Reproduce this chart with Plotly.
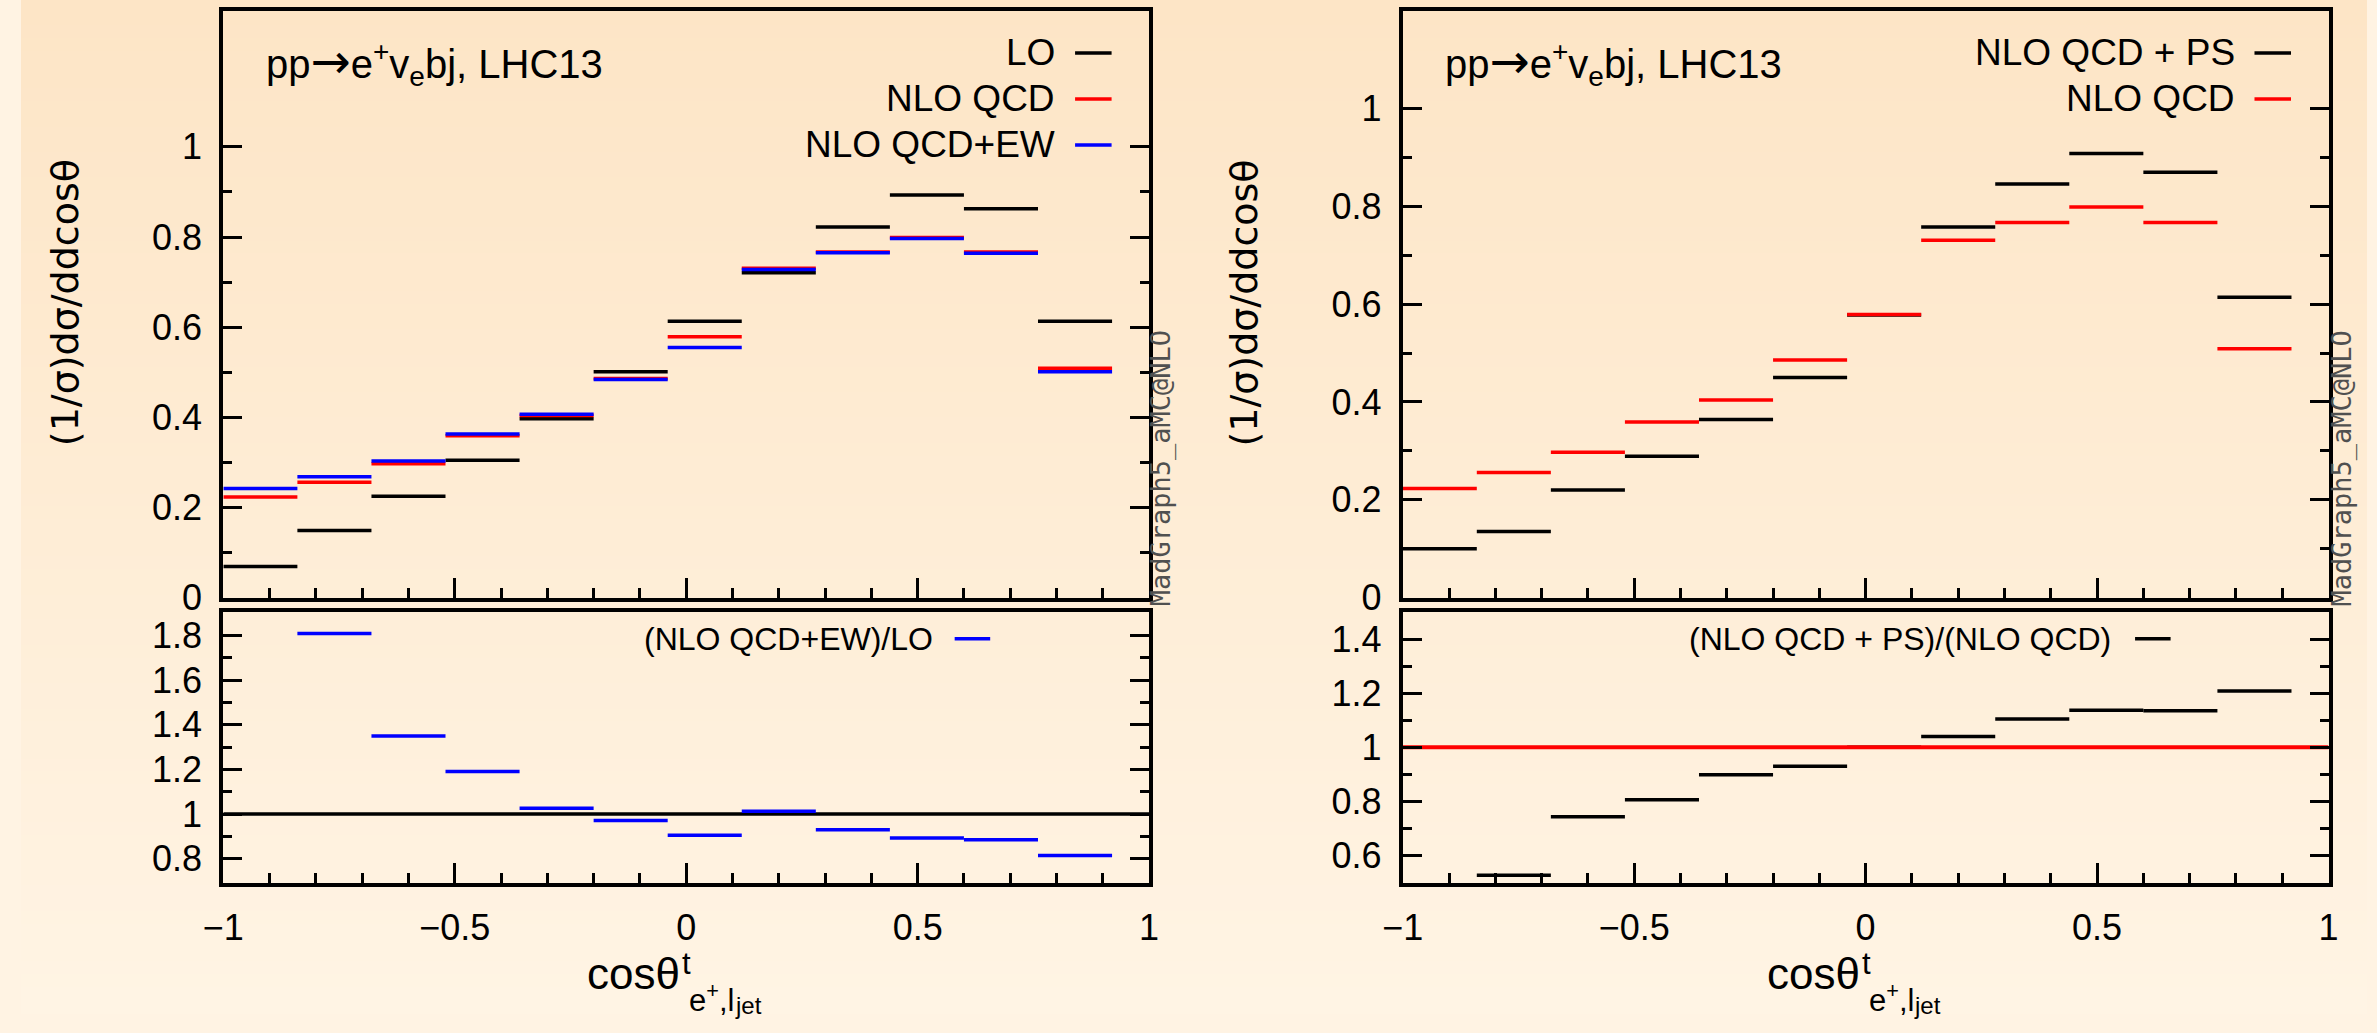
import plotly.graph_objects as go

W, H = 2377, 1033

# cos(theta) bin edges (12 bins of width 0.16)
bin_edges = [-1.0, -0.84, -0.68, -0.52, -0.36, -0.20, -0.04, 0.12, 0.28, 0.44, 0.60, 0.76, 0.92]

# normalised distributions (1/sigma) dsigma/dcos(theta)
lo = [0.069, 0.149, 0.225, 0.305, 0.397, 0.501, 0.613, 0.721, 0.822, 0.893, 0.863, 0.613]
nlo_qcd = [0.223, 0.256, 0.297, 0.359, 0.404, 0.486, 0.579, 0.731, 0.767, 0.799, 0.767, 0.509]
nlo_qcd_ew = [0.242, 0.268, 0.303, 0.363, 0.407, 0.484, 0.555, 0.728, 0.765, 0.797, 0.764, 0.501]
nlo_qcd_ps = [0.100, 0.135, 0.220, 0.289, 0.364, 0.450, 0.578, 0.758, 0.846, 0.908, 0.870, 0.614]

# ratios
ratio_ew_over_lo = [3.51, 1.809, 1.350, 1.191, 1.026, 0.971, 0.905, 1.013, 0.930, 0.893, 0.885, 0.815]
ratio_ps_over_qcd = [0.445, 0.526, 0.743, 0.806, 0.898, 0.930, 1.000, 1.040, 1.105, 1.138, 1.136, 1.209]

x_ticks = [-1, -0.5, 0, 0.5, 1]

FONT = "Liberation Sans, Arial, Helvetica, sans-serif"
BLACK, RED, BLUE = "#000000", "#ff0000", "#0000ff"
LW = 3.5


def px(x):
    return x / W


def py(y):
    return 1 - y / H


def steps(values):
    xs, ys = [], []
    for i, v in enumerate(values):
        xs += [bin_edges[i], bin_edges[i + 1], None]
        ys += [v, v, None]
    return xs, ys


fig = go.Figure()


def add_hist(values, color, xa, ya, width=LW):
    xs, ys = steps(values)
    fig.add_trace(go.Scatter(x=xs, y=ys, mode="lines", xaxis=xa, yaxis=ya,
                             line=dict(color=color, width=width), showlegend=False,
                             hoverinfo="skip"))


def add_unity(color, xa, ya, width):
    fig.add_trace(go.Scatter(x=[-1, 1], y=[1, 1], mode="lines", xaxis=xa, yaxis=ya,
                             line=dict(color=color, width=width), showlegend=False,
                             hoverinfo="skip"))


# left: LO vs NLO QCD vs NLO QCD+EW
add_hist(lo, BLACK, "x", "y")
add_hist(nlo_qcd, RED, "x", "y")
add_hist(nlo_qcd_ew, BLUE, "x", "y")
add_unity(BLACK, "x2", "y2", 3.5)
add_hist(ratio_ew_over_lo, BLUE, "x2", "y2")

# right: NLO QCD + PS vs NLO QCD
add_hist(nlo_qcd_ps, BLACK, "x3", "y3")
add_hist(nlo_qcd, RED, "x3", "y3")
add_hist(ratio_ps_over_qcd, BLACK, "x4", "y4")
add_unity(RED, "x4", "y4", 4)

# panel geometry
left_dom = [px(205), px(1143)]
right_dom = [px(1400), px(2338)]
top_dom = [py(610), py(11)]
bot_dom = [py(901), py(624.7)]

tickfont = dict(family=FONT, size=36, color="black")


def xaxis(domain, anchor, labels):
    return dict(domain=domain, anchor=anchor, range=[-1, 1], showgrid=False, zeroline=False,
                showline=True, linecolor="black", linewidth=4, mirror=True,
                ticks="inside", ticklen=20, tickwidth=2.5, tickcolor="black",
                tickmode="array", tickvals=x_ticks, showticklabels=labels,
                ticklabelstandoff=10, tickfont=tickfont,
                minor=dict(ticks="inside", ticklen=10, tickwidth=2.5, tickcolor="black",
                           dtick=0.1, tick0=0))


def yaxis(domain, anchor, rng, major, minor):
    return dict(domain=domain, anchor=anchor, range=rng, showgrid=False, zeroline=False,
                showline=True, linecolor="black", linewidth=4, mirror="allticks",
                ticks="inside", ticklen=19, tickwidth=2.5, tickcolor="black",
                tickmode="array", tickvals=major, tickfont=tickfont,
                ticklabelstandoff=10,
                minor=dict(ticks="inside", ticklen=9, tickwidth=2.5, tickcolor="black",
                           tickvals=minor))


top_major = [0, 0.2, 0.4, 0.6, 0.8, 1.0]
top_minor = [0.1, 0.3, 0.5, 0.7, 0.9]

layout = dict(
    width=W, height=H, margin=dict(l=0, r=0, t=0, b=0),
    paper_bgcolor="#fff3e3", plot_bgcolor="rgba(0,0,0,0)",
    showlegend=False, font=dict(family=FONT, color="black"),
    xaxis=xaxis(left_dom, "y", False),
    yaxis=yaxis(top_dom, "x", [0, 1.302], top_major, top_minor),
    xaxis2=xaxis(left_dom, "y2", True),
    yaxis2=yaxis(bot_dom, "x2", [0.693, 1.905], [0.8, 1.0, 1.2, 1.4, 1.6, 1.8],
                 [0.9, 1.1, 1.3, 1.5, 1.7]),
    xaxis3=xaxis(right_dom, "y3", False),
    yaxis3=yaxis(top_dom, "x3", [0, 1.2], top_major, top_minor),
    xaxis4=xaxis(right_dom, "y4", True),
    yaxis4=yaxis(bot_dom, "x4", [0.498, 1.502], [0.6, 0.8, 1.0, 1.2, 1.4], [0.7, 0.9, 1.1, 1.3]),
)
fig.update_layout(**layout)

# soft vertical background gradient
shapes = []
n = 80
c_top = (253, 229, 198)
c_bot = (255, 244, 228)
for i in range(n):
    t = i / (n - 1)
    c = tuple(round(c_top[k] + (c_bot[k] - c_top[k]) * t) for k in range(3))
    shapes.append(dict(type="rect", xref="paper", yref="paper", x0=0, x1=1,
                       y0=1 - (i + 1) / n - 0.002, y1=1 - i / n, layer="below",
                       line=dict(width=0), fillcolor="rgb(%d,%d,%d)" % c))

annotations = []


def text(x, y, s, size, xanchor="left", yanchor="middle", angle=0, family=FONT, color="black"):
    annotations.append(dict(x=px(x), y=py(y), xref="paper", yref="paper", text=s,
                            showarrow=False, xanchor=xanchor, yanchor=yanchor,
                            textangle=angle, font=dict(family=family, size=size, color=color)))


def key_line(x0, x1, y, color):
    shapes.append(dict(type="line", xref="paper", yref="paper", x0=px(x0), x1=px(x1),
                       y0=py(y), y1=py(y), line=dict(color=color, width=LW)))


ARROW = '<span style="font-family:DejaVu Sans;font-size:48px">→</span>'
TITLE = "pp" + ARROW + "e<sup>+</sup>v<sub>e</sub>bj, LHC13"

for off, names in ((0, [("LO", BLACK), ("NLO QCD", RED), ("NLO QCD+EW", BLUE)]),
                   (1195, [("NLO QCD + PS", BLACK), ("NLO QCD", RED)])):
    # process label
    text(246 + off, 64, TITLE, 40)
    # key
    for k, (name, col) in enumerate(names):
        yy = 54 + 47 * k
        text(1050 + off, yy, name, 37, xanchor="right")
        key_line(1068 + off, 1105 + off, yy, col)
    # y title
    text(44 + off, 309, "(1/σ)dσ/ddcosθ", 38, xanchor="center", angle=-90,
         family="DejaVu Sans, sans-serif")
    # generator stamp
    text(1155 + (1197 if off else 0), 478, "MadGraph5_aMC@NLO", 27, xanchor="center",
         angle=-90, family="DejaVu Sans Mono, monospace", color="#505050")
    # x title
    c = 674 + off
    text(c - 4, 994, "cosθ", 44, xanchor="right")
    text(c - 6, 983, "t", 31)
    text(c + 1, 1019, "e<sup>+</sup>,l", 31)
    text(c + 47, 1026, "jet", 24)

# ratio keys
text(926, 652, "(NLO QCD+EW)/LO", 32, xanchor="right")
key_line(946, 982, 652, BLUE)
text(2120, 652, "(NLO QCD + PS)/(NLO QCD)", 32, xanchor="right")
key_line(2142, 2178, 652, BLACK)

fig.update_layout(shapes=shapes, annotations=annotations)
fig.write_html("out.html")
